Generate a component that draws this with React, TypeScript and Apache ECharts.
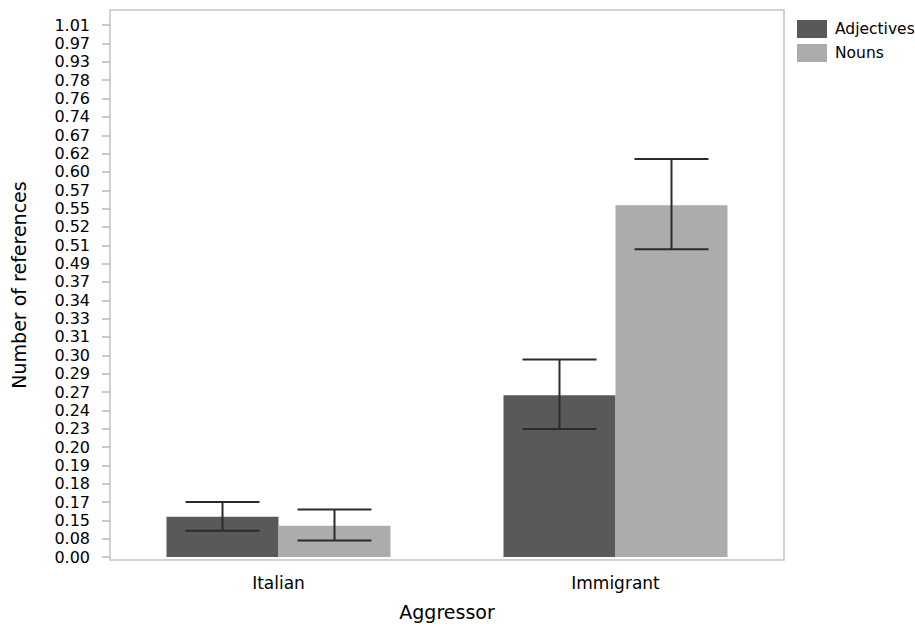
import React, { useEffect, useRef } from "react";
import * as echarts from "echarts";

// Y axis tick labels (bottom to top), evenly spaced on the axis (positions 0..29)
const yTickLabels = [
  "0.00", "0.08", "0.15", "0.17", "0.18", "0.19", "0.20", "0.23", "0.24", "0.27",
  "0.29", "0.30", "0.31", "0.33", "0.34", "0.37", "0.49", "0.51", "0.52", "0.55",
  "0.57", "0.60", "0.62", "0.67", "0.74", "0.76", "0.78", "0.93", "0.97", "1.01",
];
const categories = ["Italian", "Immigrant"];
// values in axis-position units (tick index)
const adjectives = [2.2, 8.83];
const nouns = [1.71, 19.19];
const adjLow = [1.43, 6.98];
const adjHigh = [3.0, 10.77];
const nounLow = [0.91, 16.78];
const nounHigh = [2.6, 21.7];

const FONT = "DejaVu Sans";

export default function App() {
  const ref = useRef<HTMLDivElement>(null);
  useEffect(() => {
    if (!ref.current) return;
    const chart = echarts.init(ref.current, undefined, { renderer: "svg" });
    const tickPositions = yTickLabels.map((_, i) => i);
    const BAR_W = 112;
    const WHISK = 74;
    const errSeries = (name: string, low: number[], high: number[], offset: number) => ({
      type: "custom",
      name,
      z: 10,
      encode: { x: 0, y: [1, 2] },
      data: categories.map((_, i) => [i, low[i], high[i]]),
      renderItem: (params: any, api: any) => {
        const lo = api.coord([api.value(0), api.value(1)]);
        const hi = api.coord([api.value(0), api.value(2)]);
        const x = lo[0] + offset;
        const style = { stroke: "#2b2b2b", lineWidth: 2 };
        return {
          type: "group",
          children: [
            { type: "line", shape: { x1: x, y1: lo[1], x2: x, y2: hi[1] }, style },
            { type: "line", shape: { x1: x - WHISK / 2, y1: lo[1], x2: x + WHISK / 2, y2: lo[1] }, style },
            { type: "line", shape: { x1: x - WHISK / 2, y1: hi[1], x2: x + WHISK / 2, y2: hi[1] }, style },
          ],
        };
      },
    });
    chart.setOption({
      animation: false,
      backgroundColor: "#ffffff",
      textStyle: { fontFamily: FONT },
      grid: {
        left: 110,
        right: 131,
        top: 10,
        bottom: 67,
        show: true,
        borderColor: "#c4c4c4",
        borderWidth: 1.5,
        containLabel: false,
      },
      legend: {
        data: ["Adjectives", "Nouns"],
        orient: "vertical",
        left: 792,
        top: 15,
        itemWidth: 30,
        itemHeight: 18,
        itemGap: 6,
        icon: "rect",
        textStyle: { fontFamily: FONT, fontSize: 15.5, color: "#000", padding: [0, 0, 0, 3] },
      },
      xAxis: {
        type: "category",
        data: categories,
        axisLine: { show: false },
        axisTick: { show: false },
        axisLabel: { fontFamily: FONT, fontSize: 17, color: "#000", margin: 14 },
        name: "Aggressor",
        nameLocation: "middle",
        nameGap: 42,
        nameTextStyle: { fontFamily: FONT, fontSize: 19, color: "#000" },
      },
      yAxis: {
        type: "value",
        min: -0.16,
        max: 29.83,
        splitLine: { show: false },
        axisLine: { show: false },
        axisTick: {
          show: true,
          length: 8,
          lineStyle: { color: "#b8b8b8", width: 1.5 },
          customValues: tickPositions,
        },
        axisLabel: {
          fontFamily: FONT,
          fontSize: 16,
          color: "#000",
          margin: 20,
          customValues: tickPositions,
          formatter: (v: number) => yTickLabels[Math.round(v)] ?? "",
        },
        name: "Number of references",
        nameLocation: "middle",
        nameGap: 82,
        nameTextStyle: { fontFamily: FONT, fontSize: 19, color: "#000" },
      },
      series: [
        {
          name: "Adjectives",
          type: "bar",
          data: adjectives,
          barWidth: BAR_W,
          barGap: "0%",
          itemStyle: { color: "#595959" },
        },
        {
          name: "Nouns",
          type: "bar",
          data: nouns,
          barWidth: BAR_W,
          barGap: "0%",
          itemStyle: { color: "#acacac" },
        },
        errSeries("adjErr", adjLow, adjHigh, -BAR_W / 2),
        errSeries("nounErr", nounLow, nounHigh, BAR_W / 2),
      ],
    });
    return () => chart.dispose();
  }, []);
  return <div ref={ref} style={{ width: 915, height: 627, position: "absolute", left: 0, top: 0 }} />;
}
